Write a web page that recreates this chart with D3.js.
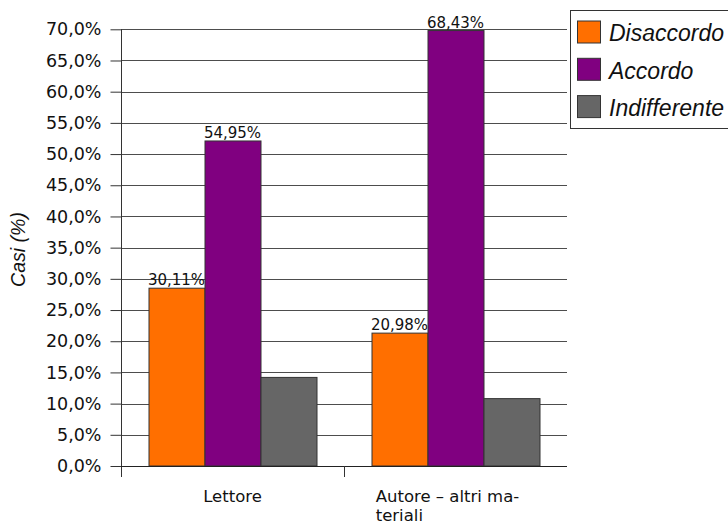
<!DOCTYPE html>
<html><head><meta charset="utf-8">
<script src="https://cdn.jsdelivr.net/npm/d3@7"></script>
<style>body{margin:0;background:#fff}svg{display:block}</style>
</head><body>
<svg id="c" width="728" height="525"></svg>
<script>
const categories = ["Lettore", "Autore – altri materiali"];
const categoryLines = [["Lettore"], ["Autore – altri ma-", "teriali"]];
const series = ["Disaccordo", "Accordo", "Indifferente"];
const disaccordo = [28.5, 21.3];
const accordo = [52.1, 69.8];
const indifferente = [14.2, 10.8];
const disaccordoLabels = ["30,11%", "20,98%"];
const accordoLabels = ["54,95%", "68,43%"];
const indifferenteLabels = [null, null];
const yTicks = [0,5,10,15,20,25,30,35,40,45,50,55,60,65,70];
const colors = ["#ff6f00", "#800080", "#666666"];

(function () {
const values = [disaccordo, accordo, indifferente];
const labels = [disaccordoLabels, accordoLabels, indifferenteLabels];

const svg = d3.select("#c");
const pL = 121, pR = 567, pT = 29.3, pB = 466;
const y = d3.scaleLinear().domain([0,70]).range([pB, pT]);
const x0 = d3.scaleBand().domain(categories).range([pL, pR]);
const x1 = d3.scaleBand().domain(series).range([0, 168]);
const groupOffset = (x0.bandwidth() - 168) / 2;

// gridlines
svg.append("g").selectAll("line").data(yTicks).join("line")
  .attr("x1", pL).attr("x2", pR)
  .attr("y1", d => Math.round(y(d)) + 0.5).attr("y2", d => Math.round(y(d)) + 0.5)
  .attr("stroke", "#4d4d4d").attr("stroke-width", 1);

// y axis
const yAxis = d3.axisLeft(y).tickValues(yTicks).tickSize(11).tickPadding(9)
  .tickFormat(d => d.toFixed(1).replace(".", ",") + "%");
const ga = svg.append("g").attr("transform", `translate(${pL + 0.5},0)`).call(yAxis);
ga.select(".domain").attr("stroke", "#333").attr("d", `M0,${pT}V${pB + 11}`);
ga.selectAll(".tick line").attr("stroke", "#333");
ga.selectAll(".tick text").attr("font-family", "DejaVu Sans").attr("font-size", 17.5).attr("fill", "#111");

// bars
series.forEach((s, i) => {
  const g = svg.append("g");
  g.selectAll("rect").data(categories).join("rect")
    .attr("x", c => x0(c) + groupOffset + x1(s) + 0.5)
    .attr("y", (c, j) => y(values[i][j]))
    .attr("width", x1.bandwidth())
    .attr("height", (c, j) => pB - y(values[i][j]))
    .attr("fill", colors[i]).attr("stroke", "#333").attr("stroke-width", 1);
  g.selectAll("text").data(categories.filter((c, j) => labels[i][j])).join("text")
    .attr("x", c => x0(c) + groupOffset + x1(s) + x1.bandwidth() / 2)
    .attr("y", c => y(values[i][categories.indexOf(c)]) - 3)
    .attr("text-anchor", "middle").attr("font-family", "DejaVu Sans").attr("font-size", 15)
    .attr("fill", "#111")
    .text(c => labels[i][categories.indexOf(c)]);
});

// x axis
svg.append("line").attr("x1", pL).attr("x2", pR).attr("y1", pB + 0.5).attr("y2", pB + 0.5)
  .attr("stroke", "#222");
svg.append("line").attr("x1", x0(categories[1]) + 0.5).attr("x2", x0(categories[1]) + 0.5)
  .attr("y1", pB).attr("y2", pB + 11).attr("stroke", "#333");

categories.forEach((c, i) => {
  const lines = categoryLines[i];
  const t = svg.append("text").attr("font-family", "DejaVu Sans").attr("font-size", 16.5).attr("fill", "#111");
  lines.forEach((l, k) => t.append("tspan").attr("x", 0).attr("y", 502 + k * 18.5).text(l));
  const w = t.node().getBBox().width;
  const cx = x0(c) + x0.bandwidth() / 2 - (i === 1 ? 8 : 0);
  t.selectAll("tspan").attr("x", cx - w / 2);
});

// y title
svg.append("text").attr("transform", "translate(25,249.5) rotate(-90)")
  .attr("text-anchor", "middle").attr("font-family", "Liberation Sans").attr("font-style", "italic")
  .attr("font-size", 19.5).attr("fill", "#111").text("Casi (%)");

// legend
const lg = svg.append("g");
lg.append("rect").attr("x", 570.5).attr("y", 10.5).attr("width", 170).attr("height", 118)
  .attr("fill", "#fff").attr("stroke", "#333");
series.forEach((s, i) => {
  lg.append("rect").attr("x", 577.5).attr("y", 21 + i * 37.3).attr("width", 23).attr("height", 22)
    .attr("fill", colors[i]).attr("stroke", "#333");
  lg.append("text").attr("x", 609).attr("y", 41 + i * 37.5)
    .attr("font-family", "Liberation Sans").attr("font-style", "italic").attr("font-size", 23)
    .attr("fill", "#111").text(s);
});
})();
</script>
</body></html>
